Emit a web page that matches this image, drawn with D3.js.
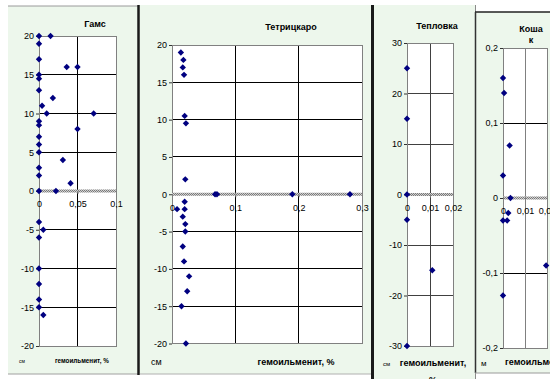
<!DOCTYPE html>
<html>
<head>
<meta charset="utf-8">
<script src="https://cdn.jsdelivr.net/npm/d3@7"></script>
<style>
  html, body { margin: 0; padding: 0; background: #fff; }
  svg { display: block; font-family: "Liberation Sans", Arial, sans-serif; }
</style>
</head>
<body>
<svg id="chart" width="550" height="379"></svg>
<script>
// ---- Гамс: depth (cm) vs гемоильменит (%) ----
const gamsDepth = [20, 20, 19, 17, 16, 16, 15, 14.5, 13, 12, 11, 10, 10, 9, 8.5, 8, 7, 6, 5, 4, 3, 2, 1, 0, 0, -4, -5, -6, -10, -12, -14, -15, -16];
const gamsValue = [0, 0.015, 0, 0, 0.036, 0.05, 0, 0, 0, 0.018, 0.004, 0.01, 0.071, 0, 0, 0.05, 0, 0, 0, 0.031, 0, 0, 0.041, 0, 0.022, 0, 0.0056, 0, 0, 0, 0, 0, 0.0056];
const gamsYTicks = [-20, -15, -10, -5, 0, 5, 10, 15, 20];
const gamsXTicks = [0, 0.05, 0.1];

// ---- Тетрицкаро ----
const tetrDepth = [19, 18, 17, 16, 10.5, 9.5, 2, 0, 0, 0, 0, -1, -2, -2, -3, -4, -5, -7, -9, -11, -13, -15, -20];
const tetrValue = [0.014, 0.018, 0.017, 0.019, 0.02, 0.022, 0.021, 0.068, 0.071, 0.19, 0.281, 0.02, 0.008, 0.02, 0.017, 0.021, 0.021, 0.017, 0.019, 0.027, 0.024, 0.015, 0.022];
const tetrYTicks = [-20, -15, -10, -5, 0, 5, 10, 15, 20];
const tetrXTicks = [0, 0.1, 0.2, 0.3];

// ---- Тепловка ----
const teplDepth = [25, 15, 0, -5, -15, -30];
const teplValue = [0, 0, 0, 0, 0.011, 0];
const teplYTicks = [-30, -20, -10, 0, 10, 20, 30];
const teplXTicks = [0, 0.01, 0.02];

// ---- Кошак (depth in m) ----
const koshDepth = [0.16, 0.14, 0.07, 0.03, 0, -0.02, -0.03, -0.03, -0.09, -0.13];
const koshValue = [0, 0.0005, 0.003, 0, 0.0034, 0.0024, 0, 0.0019, 0.0196, 0];
const koshYTicks = [-0.2, -0.1, 0, 0.1, 0.2];
const koshXTicks = [0, 0.01, 0.02];

const svg = d3.select("#chart");
const fmt = d => String(+(+d).toFixed(4)).replace(".", ",");
const PANEL_BG = "#edf7ec";

// checkered pattern used for the zero (category) axis line
const defs = svg.append("defs");
const pat = defs.append("pattern").attr("id", "hatch").attr("width", 2).attr("height", 2)
  .attr("patternUnits", "userSpaceOnUse");
pat.append("rect").attr("width", 2).attr("height", 2).attr("fill", "#d0d0d0");
pat.append("rect").attr("width", 1).attr("height", 1).attr("fill", "#7a7a7a");
pat.append("rect").attr("x", 1).attr("y", 1).attr("width", 1).attr("height", 1).attr("fill", "#7a7a7a");

// ---- panel frames ----
const frames = svg.append("g");
frames.append("rect").attr("x", 8).attr("y", 6).attr("width", 130).attr("height", 368).attr("fill", PANEL_BG);
frames.append("rect").attr("x", 138).attr("y", 5).attr("width", 234).attr("height", 369).attr("fill", PANEL_BG);
frames.append("rect").attr("x", 372).attr("y", 5).attr("width", 103).attr("height", 374).attr("fill", PANEL_BG);
frames.append("rect").attr("x", 475).attr("y", 12).attr("width", 75).attr("height", 361).attr("fill", PANEL_BG);

function hline(x1, x2, yv, color, w) {
  frames.append("line").attr("x1", x1).attr("x2", x2).attr("y1", yv).attr("y2", yv)
    .attr("stroke", color).attr("stroke-width", w);
}
function vline(xv, y1, y2, color, w) {
  frames.append("line").attr("x1", xv).attr("x2", xv).attr("y1", y1).attr("y2", y2)
    .attr("stroke", color).attr("stroke-width", w);
}
hline(8, 138, 6, "#9a9a9a", 1);
hline(8, 138, 374, "#a0a0a0", 1);
hline(140, 372, 374, "#b0b0b0", 1);
vline(138.5, 5, 375, "#1a1a1a", 2.5);
vline(372.5, 5, 379, "#1a1a1a", 3);
vline(475.5, 5, 379, "#8a8a8a", 1);
hline(475, 550, 12, "#222", 1.5);
vline(475.5, 12, 373, "#333", 1.5);
hline(475, 550, 373, "#9a9a9a", 1);

// ---- one scatter panel ----
function drawPanel(p) {
  const x = d3.scaleLinear().domain(d3.extent(p.xTicks)).range([p.left, p.right]);
  const y = d3.scaleLinear().domain(d3.extent(p.yTicks)).range([p.bottom, p.top]);
  const g = svg.append("g");

  g.append("rect").attr("x", p.left).attr("y", p.top)
    .attr("width", p.right - p.left).attr("height", p.bottom - p.top).attr("fill", "#fff");

  g.append("g").selectAll("line").data(p.yTicks.filter(v => v !== 0)).join("line")
    .attr("x1", p.left).attr("x2", p.right)
    .attr("y1", d => y(d)).attr("y2", d => y(d))
    .attr("stroke", p.hGrid).attr("stroke-width", 1).attr("shape-rendering", "crispEdges");

  g.append("g").selectAll("line").data(p.xTicks).join("line")
    .attr("x1", d => x(d)).attr("x2", d => x(d))
    .attr("y1", p.top).attr("y2", p.bottom)
    .attr("stroke", p.vGrid).attr("stroke-width", 1).attr("shape-rendering", "crispEdges");

  g.append("rect").attr("x", p.left).attr("y", p.top)
    .attr("width", p.right - p.left).attr("height", p.bottom - p.top)
    .attr("fill", "none").attr("stroke", "#808080").attr("shape-rendering", "crispEdges");

  // y axis
  const ya = g.append("g").attr("transform", `translate(${p.left},0)`)
    .call(d3.axisLeft(y).tickValues(p.yTicks).tickSize(3).tickSizeOuter(0).tickPadding(2).tickFormat(fmt));
  ya.select(".domain").attr("stroke", "#808080");
  ya.selectAll(".tick line").attr("stroke", "#333");
  ya.selectAll("text").attr("fill", "#000").style("font-size", "9px").style("font-family", "Liberation Sans, Arial, sans-serif");

  // zero axis line with tick labels
  g.append("rect").attr("x", p.left).attr("y", y(0) - 1.5)
    .attr("width", p.right - p.left).attr("height", 3).attr("fill", "url(#hatch)");
  const xa = g.append("g").attr("transform", `translate(0,${y(0)})`)
    .call(d3.axisBottom(x).tickValues(p.xTicks).tickSize(3).tickSizeOuter(0).tickPadding(7).tickFormat(fmt));
  xa.select(".domain").remove();
  xa.selectAll(".tick line").attr("stroke", "#808080");
  xa.selectAll("text").attr("fill", "#000").style("font-size", "9px").style("font-family", "Liberation Sans, Arial, sans-serif");

  // markers
  const diamond = d3.symbol().type(d3.symbolDiamond2).size(26);
  g.append("g").selectAll("path").data(p.values.map((v, i) => [v, p.depth[i]])).join("path")
    .attr("d", diamond)
    .attr("transform", d => `translate(${x(d[0])},${y(d[1])})`)
    .attr("fill", "#000080");
  return g;
}

function label(txt, xv, yv, size, weight, anchor) {
  svg.append("text").attr("x", xv).attr("y", yv).attr("text-anchor", anchor || "middle")
    .style("font-size", size + "px").style("font-weight", weight || "normal").attr("fill", "#000").text(txt);
}

drawPanel({ depth: gamsDepth, values: gamsValue, xTicks: gamsXTicks, yTicks: gamsYTicks,
  left: 39, right: 116, top: 36, bottom: 346, hGrid: "#000", vGrid: "#000" });
label("Гамс", 95, 27, 9, "bold");
label("см", 19, 363, 5, "normal", "start");
label("гемоильменит, %", 55, 363, 6.3, "bold", "start");

drawPanel({ depth: tetrDepth, values: tetrValue, xTicks: tetrXTicks, yTicks: tetrYTicks,
  left: 172, right: 362, top: 45, bottom: 343.5, hGrid: "#000", vGrid: "#000" });
label("Тетрицкаро", 291, 30, 9, "bold");
label("см", 151, 365, 9, "normal", "start");
label("гемоильменит, %", 296, 365, 9, "bold");

drawPanel({ depth: teplDepth, values: teplValue, xTicks: teplXTicks, yTicks: teplYTicks,
  left: 407, right: 453, top: 43, bottom: 346, hGrid: "#404040", vGrid: "#404040" });
label("Тепловка", 437, 28.5, 9, "bold");
label("см", 383, 366, 6, "normal", "start");
label("гемоильменит,", 433, 366, 9, "bold");
label("%", 433, 383, 9, "bold");

drawPanel({ depth: koshDepth, values: koshValue, xTicks: koshXTicks, yTicks: koshYTicks,
  left: 503, right: 547, top: 48, bottom: 348, hGrid: "#000", vGrid: "#808080" });
label("Коша", 531, 32, 9, "bold");
label("к", 531, 43, 9, "bold");
label("м", 481, 366, 8, "normal", "start");
label("гемоильменит, %", 505, 365, 9, "bold", "start");
</script>
</body>
</html>
